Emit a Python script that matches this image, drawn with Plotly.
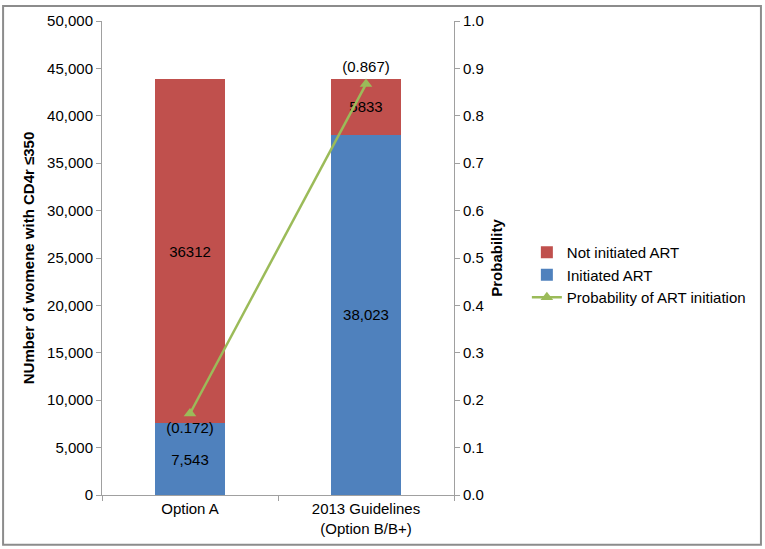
import plotly.graph_objects as go

categories = ["Option A", "2013 Guidelines<br>(Option B/B+)"]
initiated = [7543, 38023]
not_initiated = [36312, 5833]
initiated_labels = ["7,543", "38,023"]
not_initiated_labels = ["36312", "5833"]
probability = [0.172, 0.867]
prob_labels = ["(0.172)", "(0.867)"]

RED = "#C0504D"
BLUE = "#4F81BD"
GREEN = "#9BBB59"
FONT = "Liberation Sans, Arial, sans-serif"
FS = 15

fig = go.Figure()
fig.add_trace(go.Bar(
    x=categories, y=initiated, name="Initiated ART",
    marker=dict(color=BLUE, line=dict(width=0)),
    text=initiated_labels, textposition="inside", insidetextanchor="middle",
    textfont=dict(color="black", size=FS, family=FONT), legendrank=2,
    width=0.4,
))
fig.add_trace(go.Bar(
    x=categories, y=not_initiated, name="Not initiated ART",
    marker=dict(color=RED, line=dict(width=0)),
    text=not_initiated_labels, textposition="inside", insidetextanchor="middle",
    textfont=dict(color="black", size=FS, family=FONT), legendrank=1,
    width=0.4,
))
fig.add_trace(go.Scatter(
    x=categories, y=probability, name="Probability of ART initiation",
    yaxis="y2", mode="lines+markers+text",
    line=dict(color=GREEN, width=2.5),
    marker=dict(symbol="triangle-up", size=11, color=GREEN),
    text=prob_labels, textposition=["bottom center", "top center"],
    textfont=dict(color="black", size=FS, family=FONT), legendrank=3,
    cliponaxis=False,
))

fig.update_layout(
    width=765, height=549,
    barmode="stack",
    paper_bgcolor="white", plot_bgcolor="white",
    font=dict(family=FONT, size=FS, color="black"),
    margin=dict(l=102, r=311, t=19, b=54),
    showlegend=True,
    legend=dict(x=1.207, y=0.464, xanchor="left", yanchor="middle",
                traceorder="normal",
                font=dict(size=FS, family=FONT), tracegroupgap=0,
                itemwidth=30, bgcolor="rgba(0,0,0,0)"),
    xaxis=dict(showline=True, linecolor="#A0A0A0", linewidth=1,
               ticks="outside", tickson="boundaries", ticklen=5, tickcolor="#A0A0A0",
               tickfont=dict(size=FS), showgrid=False),
    yaxis=dict(range=[0, 50000], dtick=5000, tickformat=",d",
               showline=True, linecolor="#A0A0A0", linewidth=1,
               ticks="outside", ticklen=5, tickcolor="#A0A0A0",
               showgrid=False, zeroline=False, tickfont=dict(size=FS),
               title=dict(text="<b>NUmber of womene with CD4r ≤350</b>", font=dict(size=FS), standoff=8)),
    yaxis2=dict(range=[0, 1.0], dtick=0.1, tickformat=".1f", overlaying="y", side="right",
                showline=True, linecolor="#A0A0A0", linewidth=1,
                ticks="outside", ticklen=5, tickcolor="#A0A0A0",
                showgrid=False, zeroline=False, tickfont=dict(size=FS),
                title=dict(text="<b>Probability</b>", font=dict(size=FS), standoff=8)),
    shapes=[dict(type="rect", xref="paper", yref="paper",
                 x0=-0.281, x1=1.872, y0=-0.105, y1=1.0315,
                 line=dict(color="#8C8C8C", width=2), layer="below")],
)

fig.write_html("out.html", config={"displayModeBar": False},
               post_script="document.body.style.margin='0';document.body.style.overflow='hidden';")
